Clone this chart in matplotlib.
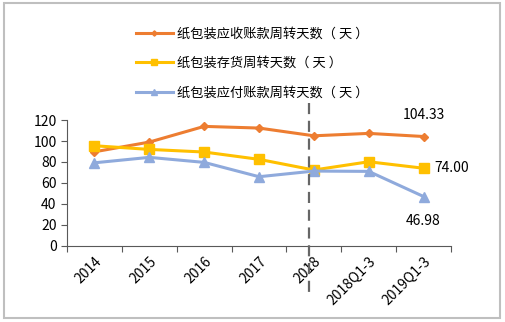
import matplotlib
matplotlib.use('Agg')
import matplotlib.pyplot as plt
from matplotlib.patches import Rectangle

plt.rcParams['font.family'] = ['Noto Sans CJK SC', 'DejaVu Sans']

categories = ['2014', '2015', '2016', '2017', '2018', '2018Q1-3', '2019Q1-3']
receivable_days = [89.7, 99.0, 114.0, 112.4, 105.0, 107.3, 104.33]
inventory_days = [95.5, 92.0, 89.5, 82.5, 72.3, 80.2, 74.00]
payable_days = [79.2, 84.4, 79.6, 65.9, 71.3, 71.0, 46.98]
series_names = ['纸包装应收账款周转天数（ 天 ）', '纸包装存货周转天数（ 天 ）', '纸包装应付账款周转天数（ 天 ）']

fig = plt.figure(figsize=(5.05, 3.22), dpi=100)
fig.patch.set_facecolor('white')
ax = fig.add_axes([0.1327, 0.237, 0.7604, 0.390])

x = list(range(len(categories)))
l1, = ax.plot(x, receivable_days, color='#ED7D31', lw=2.2, marker='D', ms=4.5)
l2, = ax.plot(x, inventory_days, color='#FFC000', lw=2.2, marker='s', ms=7.5)
l3, = ax.plot(x, payable_days, color='#8FAADC', lw=2.2, marker='^', ms=7.5)

ax.set_xlim(-0.5, len(categories) - 0.5)
ax.set_ylim(0, 120)
ax.set_yticks(range(0, 121, 20))
ax.set_xticks([i - 0.5 for i in range(len(categories) + 1)], minor=False)
ax.set_xticklabels([])
ax.set_xticks(x, minor=True)
ax.set_xticklabels(categories, minor=True, rotation=45, ha='right',
                   rotation_mode='anchor', fontsize=10)
ax.tick_params(axis='x', which='minor', length=0, pad=6)
ax.tick_params(axis='x', which='major', length=4, color='#595959')
ax.tick_params(axis='y', length=4, color='#595959', labelsize=10)
for s in ['top', 'right']:
    ax.spines[s].set_visible(False)
for s in ['left', 'bottom']:
    ax.spines[s].set_color('#595959')

# dashed divider
ax.plot([3.92, 3.92], [136, -47], color='#666666', lw=1.6, ls=(0, (5, 3)),
        clip_on=False, zorder=5)

# value labels
ax.text(6, receivable_days[-1] + 21, f'{receivable_days[-1]:.2f}', ha='center',
        va='center', fontsize=10)
ax.text(6.2, inventory_days[-1], f'{inventory_days[-1]:.2f}', ha='left',
        va='center', fontsize=10)
ax.text(6, payable_days[-1] - 23.4, f'{payable_days[-1]:.2f}', ha='center',
        va='center', fontsize=10)

fig.legend([l1, l2, l3], series_names, loc='upper left',
           bbox_to_anchor=(0.245, 0.95), frameon=False, fontsize=9.5,
           handlelength=2.8, labelspacing=1.22, handletextpad=0.3,
           markerscale=0.6)

fig.add_artist(Rectangle((0.007, 0.013), 0.984, 0.978, transform=fig.transFigure,
                         fill=False, edgecolor='#BFBFBF', lw=1.5))

fig.savefig('out.png', dpi=100, facecolor='white')
